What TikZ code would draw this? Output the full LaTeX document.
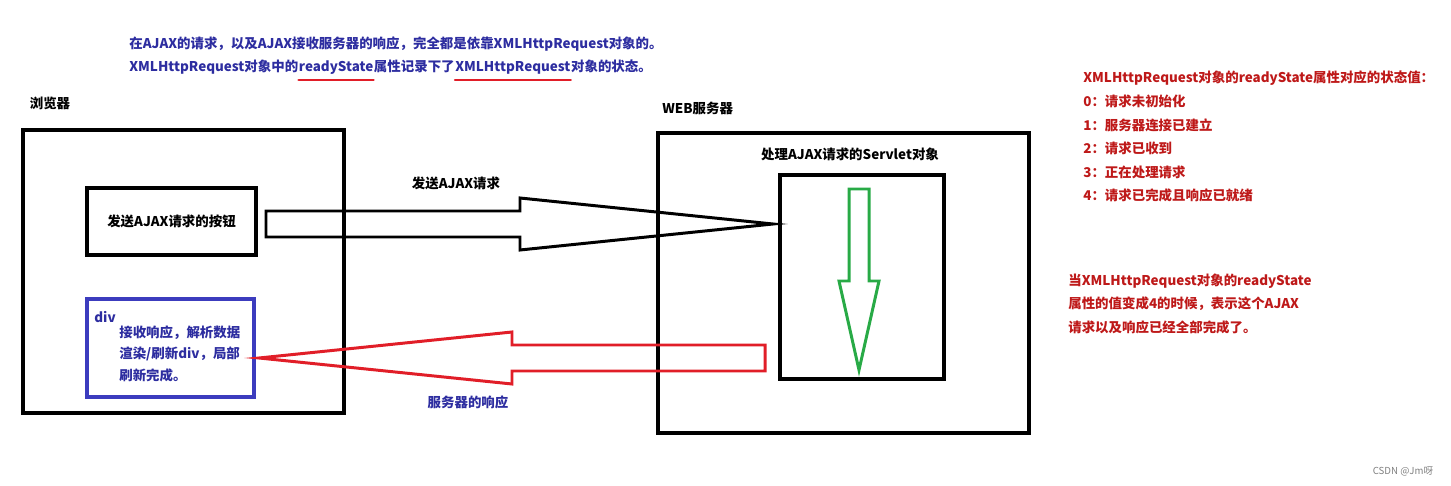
\documentclass[tikz,border=0pt]{standalone}
\usepackage{fontspec}
\setmainfont{Noto Sans CJK SC}
\usetikzlibrary{positioning}
\definecolor{noteblue}{RGB}{45,45,160}
\definecolor{notered}{RGB}{190,25,25}
\definecolor{arrowred}{RGB}{225,30,40}
\definecolor{arrowgreen}{RGB}{40,170,70}
\definecolor{divblue}{RGB}{60,60,190}
\newcommand{\pxu}{0.02cm}

\begin{document}
\begin{tikzpicture}[x=0.02cm, y=-0.02cm]
\tikzset{
  every node/.style={font=\fontsize{7.65}{9}\selectfont\bfseries, inner sep=0pt},
  box/.style={draw, line width=2pt},
  bluetxt/.style={text=noteblue, anchor=base west},
  redtxt/.style={text=notered, anchor=west},
  blockarrow/.style={line width=1.7pt, line join=miter},
  underline/.style={draw=arrowred, line width=1.3pt, line cap=round}
}
\useasboundingbox (0,0) rectangle (1451,486);
% top notes
\node[bluetxt] (note1) at (129,49) {在AJAX的请求，以及AJAX接收服务器的响应，完全都是依靠XMLHttpRequest对象的。};
\node[bluetxt] (note2a) at (129,72) {XMLHttpRequest对象中的};
\node[bluetxt] (rs) at (note2a.base east) {readyState};
\node[bluetxt] (note2b) at (rs.base east) {属性记录下了};
\node[bluetxt] (xhr) at (note2b.base east) {XMLHttpRequest};
\node[bluetxt] (note2c) at (xhr.base east) {对象的状态。};
\draw[underline] ([yshift=-4.5pt]rs.base west) -- ([yshift=-4.5pt]rs.base east);
\draw[underline] ([yshift=-4.5pt]xhr.base west) -- ([yshift=-4.5pt]xhr.base east);
% browser
\node (browserlbl) at (50,103) {浏览器};
\node[box, minimum width=321*\pxu, minimum height=283*\pxu] (browser) at (183.5,271.5) {};
\node[box, minimum width=169*\pxu, minimum height=67*\pxu] (btn) at (171.5,221.5) {发送AJAX请求的按钮};
\node[box, draw=divblue, minimum width=167*\pxu, minimum height=98*\pxu] (divbox) at (170.5,348) {};
\node[text=noteblue, anchor=west] (divlbl) at (94,317) {div};
\node[text=noteblue, anchor=north west, align=left, font=\fontsize{7.65}{12.5}\selectfont\bfseries] (divtxt) at (119,325) {接收响应，解析数据\\渲染/刷新div，局部\\刷新完成。};
% server
\node[anchor=west] (serverlbl) at (662,108) {WEB服务器};
\node[box, minimum width=371*\pxu, minimum height=300*\pxu] (server) at (843.5,283) {};
\node (servletlbl) at (850,154) {处理AJAX请求的Servlet对象};
\node[box, minimum width=164*\pxu, minimum height=204*\pxu] (servlet) at (862,277) {};
% request and response
\coordinate (reqtail) at (266,224);
\coordinate (reqtip) at (773,224);
\draw[blockarrow] (reqtail) ++(0,-13) -- ++(254,0) -- ++(0,-13) -- (reqtip)
  -- ++(-253,26) -- ++(0,-13) -- ++(-254,0) -- cycle;
\node (reqlbl) at (456,183) {发送AJAX请求};
\coordinate (proctail) at (859,189);
\coordinate (proctip) at (859,370);
\draw[blockarrow, draw=arrowgreen] (proctail) ++(-10,0) -- ++(0,92) -- ++(-10,0) -- (proctip)
  -- ++(20,-89) -- ++(-10,0) -- ++(0,-92) -- cycle;
\coordinate (resptail) at (765,358);
\coordinate (resptip) at (259,358);
\draw[blockarrow, draw=arrowred] (resptail) ++(0,-13) -- ++(-253,0) -- ++(0,-13) -- (resptip)
  -- ++(253,26) -- ++(0,-13) -- ++(253,0) -- cycle;
\node[text=noteblue] (resplbl) at (468,402) {服务器的响应};
% readyState values
\node[redtxt] (statehead) at (1083,78) {XMLHttpRequest对象的readyState属性对应的状态值：};
\node[redtxt] (state0) at (1083,101) {0：请求未初始化};
\node[redtxt] (state1) at (1083,125) {1：服务器连接已建立};
\node[redtxt] (state2) at (1083,148) {2：请求已收到};
\node[redtxt] (state3) at (1083,172) {3：正在处理请求};
\node[redtxt] (state4) at (1083,195) {4：请求已完成且响应已就绪};
\node[redtxt] (done1) at (1068,281) {当XMLHttpRequest对象的readyState};
\node[redtxt] (done2) at (1068,304) {属性的值变成4的时候，表示这个AJAX};
\node[redtxt] (done3) at (1068,327) {请求以及响应已经全部完成了。};
\node[text=gray, font=\fontsize{5.5}{7}\selectfont] (mark) at (1403,471) {CSDN @Jm呀};
\end{tikzpicture}
\end{document}
